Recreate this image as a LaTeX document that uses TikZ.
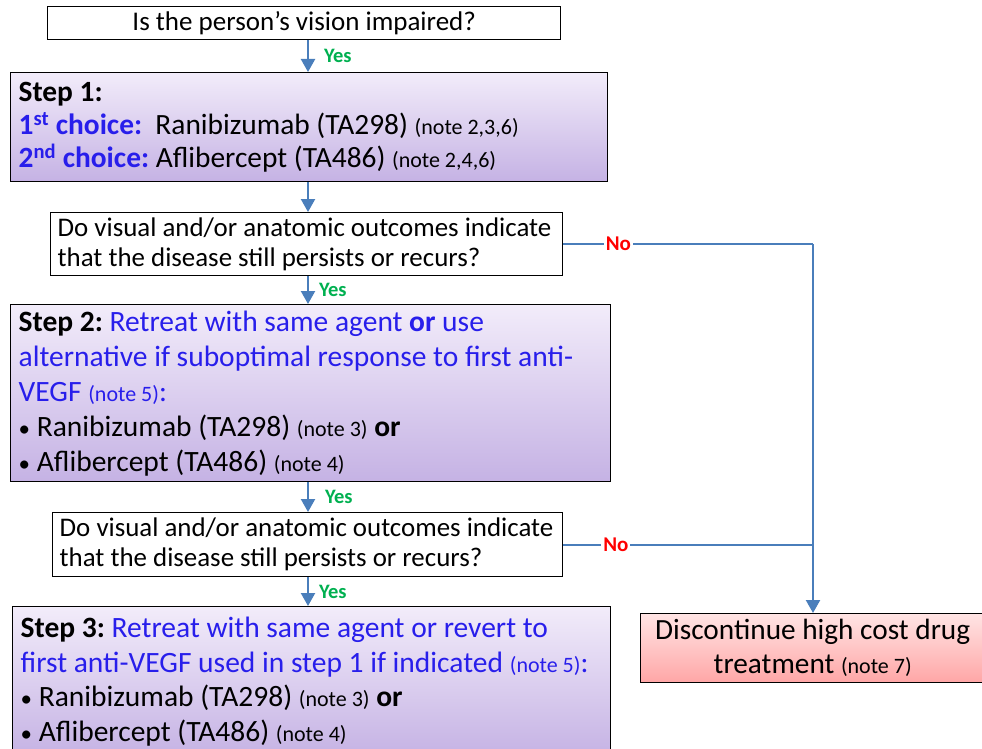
\documentclass[tikz,border=0pt]{standalone}
\usepackage{fontspec}
\setmainfont{Carlito}
\usetikzlibrary{arrows.meta}
\definecolor{arrowblue}{RGB}{74,126,187}
\definecolor{stepblue}{RGB}{40,30,235}
\definecolor{yesgreen}{RGB}{0,176,80}
\definecolor{nored}{RGB}{255,0,0}
\definecolor{purtop}{RGB}{242,236,250}
\definecolor{purbot}{RGB}{197,178,228}
\definecolor{redtop}{RGB}{255,228,228}
\definecolor{redbot}{RGB}{255,166,166}
\newcommand\nt[1]{{\fontsize{22}{22}\selectfont #1}}
\newcommand\bul{{\fontsize{23}{23}\selectfont•}}
\frenchspacing
\begin{document}
\begin{tikzpicture}[x=1pt,y=-1pt,
  box/.style={draw=black, line width=1.4pt, inner sep=0pt, anchor=north west},
  qbox/.style={box, fill=white},
  stepbox/.style={box, top color=purtop, bottom color=purbot, align=flush left, inner xsep=8pt},
  discbox/.style={box, top color=redtop, bottom color=redbot, align=center},
  arr/.style={draw=arrowblue, line width=2.2pt, -{Triangle[width=14pt,length=13pt]}},
  conn/.style={draw=arrowblue, line width=2.2pt},
  yeslab/.style={font=\fontsize{20.5}{20.5}\selectfont\bfseries, text=yesgreen, inner sep=0pt, anchor=west},
  nolab/.style={font=\fontsize{21}{21}\selectfont\bfseries, text=nored, fill=white, inner xsep=2pt, inner ysep=1pt}]
\useasboundingbox (0,0) rectangle (982,749);

\coordinate (ax) at (308,0);
\coordinate (vx) at (813,0);

\node[qbox, minimum width=513pt, minimum height=33pt, font=\fontsize{27}{28}\selectfont] (q1) at (47,6)
  {Is the person’s vision impaired?};

\node[stepbox, text width=581pt, minimum height=109pt, font=\fontsize{29.4}{33}\selectfont] (s1) at (10,72)
  {\textbf{Step 1:}\\
   {\color{stepblue}\textbf{1\textsuperscript{st} choice:}}\ \ Ranibizumab (TA298) \nt{(note 2,3,6)}\\
   {\color{stepblue}\textbf{2\textsuperscript{nd} choice:}} Aflibercept (TA486) \nt{(note 2,4,6)}};

\node[qbox, text width=498pt, inner xsep=7pt, minimum height=63pt, align=flush left, font=\fontsize{26.9}{30}\selectfont] (q2) at (50,212)
  {Do visual and/or anatomic outcomes indicate\\that the disease still persists or recurs?};

\node[qbox, text width=496pt, inner xsep=7pt, minimum height=64pt, align=flush left, font=\fontsize{26.9}{30}\selectfont] (q3) at (52,512)
  {Do visual and/or anatomic outcomes indicate\\that the disease still persists or recurs?};

\node[stepbox, text width=584pt, minimum height=177pt, font=\fontsize{29.5}{35}\selectfont] (s2) at (10,304)
  {\textbf{Step 2:} {\color{stepblue}Retreat with same agent \textbf{or} use\\
   alternative if suboptimal response to first anti-\\
   VEGF \nt{(note 5)}:}\\
   \bul\ Ranibizumab (TA298) \nt{(note 3)} \textbf{or}\\
   \bul\ Aflibercept (TA486) \nt{(note 4)}};

\node[stepbox, text width=582pt, minimum height=150pt, font=\fontsize{29.5}{34.5}\selectfont] (s3) at (12,606)
  {\textbf{Step 3:} {\color{stepblue}Retreat with same agent or revert to\\
   first anti-VEGF used in step 1 if indicated \nt{(note 5)}:}\\
   \bul\ Ranibizumab (TA298) \nt{(note 3)} \textbf{or}\\
   \bul\ Aflibercept (TA486) \nt{(note 4)}};

\node[discbox, minimum width=344pt, minimum height=69pt, font=\fontsize{29.3}{34}\selectfont] (d) at (640,613)
  {Discontinue high cost drug\\treatment \nt{(note 7)}};

\draw[arr] (q1.south -| ax) -- node[yeslab, xshift=15pt]{Yes} (s1.north -| ax);
\draw[arr] (s1.south -| ax) -- (q2.north -| ax);
\draw[arr] (q2.south -| ax) -- node[yeslab, xshift=10pt]{Yes} (s2.north -| ax);
\draw[arr] (s2.south -| ax) -- node[yeslab, xshift=16pt]{Yes} (q3.north -| ax);
\draw[arr] (q3.south -| ax) -- node[yeslab, xshift=10pt]{Yes} (s3.north -| ax);

\coordinate (j) at (vx |- q3.east);
\draw[conn] (q2.east) -- node[nolab, pos=0.22]{No} (q2.east -| vx);
\draw[arr] (q2.east -| vx) -- (d.north -| vx);
\draw[conn] (q3.east) -- node[nolab, pos=0.21]{No} (j);
\end{tikzpicture}
\end{document}
